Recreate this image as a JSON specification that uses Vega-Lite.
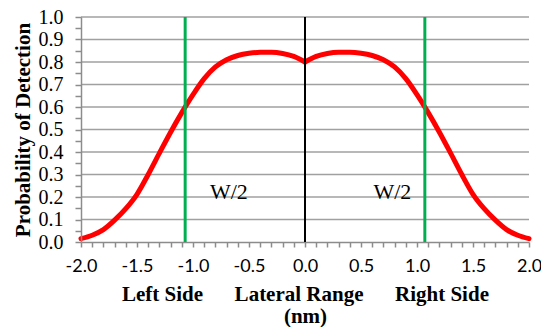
{
  "$schema": "https://vega.github.io/schema/vega-lite/v6.json",
  "width": 448,
  "height": 225,
  "autosize": {"type": "none"},
  "padding": {"left": 81, "top": 17, "right": 12, "bottom": 85},
  "background": "white",
  "config": {
    "view": {"stroke": null},
    "axis": {"domain": true, "ticks": true, "domainColor": "#8c8c8c", "domainWidth": 1.5, "tickColor": "#8c8c8c", "tickWidth": 1.5, "labelColor": "black", "titleColor": "black"},
    "axisX": {"labelFont": "Lato", "labelFontSize": 18},
    "axisY": {"labelFont": "Liberation Serif", "labelFontSize": 20}
  },
  "encoding": {
    "x": {
      "field": "x",
      "type": "quantitative",
      "scale": {"domain": [-2, 2], "nice": false, "zero": false},
      "axis": {
        "values": [-2.0, -1.9, -1.8, -1.7, -1.6, -1.5, -1.4, -1.3, -1.2, -1.1, -1.0, -0.9, -0.8, -0.7, -0.6, -0.5, -0.4, -0.3, -0.2, -0.1, 0.0, 0.1, 0.2, 0.3, 0.4, 0.5, 0.6, 0.7, 0.8, 0.9, 1.0, 1.1, 1.2, 1.3, 1.4, 1.5, 1.6, 1.7, 1.8, 1.9, 2.0],
        "labelExpr": "abs(datum.value*2 - round(datum.value*2)) < 0.001 ? ((datum.value < -0.001 ? '-' : '') + format(abs(datum.value), '.1f')) : ''",
        "labelOverlap": false,
        "labelFlush": false,
        "grid": false,
        "tickSize": 5,
        "labelPadding": 10,
        "labelFont": "Lato",
        "labelFontSize": 18,
        "title": ["Left Side\u00a0\u00a0\u00a0\u00a0\u00a0\u00a0Lateral Range\u00a0\u00a0\u00a0\u00a0\u00a0\u00a0Right Side", "(nm)"],
        "titleFont": "Liberation Serif",
        "titleFontSize": 21,
        "titleFontWeight": "bold",
        "titleLineHeight": 22,
        "titlePadding": 8
      }
    },
    "y": {
      "field": "p",
      "type": "quantitative",
      "scale": {"domain": [0, 1], "nice": false, "zero": false},
      "axis": {
        "values": [0, 0.05, 0.1, 0.15, 0.2, 0.25, 0.3, 0.35, 0.4, 0.45, 0.5, 0.55, 0.6, 0.65, 0.7, 0.75, 0.8, 0.85, 0.9, 0.95, 1.0],
        "labelExpr": "abs(datum.value*10 - round(datum.value*10)) < 0.001 ? format(datum.value, '.1f') : ''",
        "labelOverlap": false,
        "labelFlush": false,
        "grid": false,
        "domain": true,
        "ticks": true,
        "domainColor": "#8c8c8c",
        "domainOpacity": 1,
        "domainWidth": 1.5,
        "tickColor": "#8c8c8c",
        "tickOpacity": 1,
        "tickWidth": 1.5,
        "tickSize": 6,
        "zindex": 1,
        "labelPadding": 12,
        "labelFont": "Liberation Serif",
        "labelFontSize": 20,
        "labelFontWeight": "normal",
        "title": "Probability of Detection",
        "titleFont": "Liberation Serif",
        "titleFontSize": 21,
        "titleFontWeight": "bold",
        "titlePadding": 5
      }
    }
  },
  "layer": [
    {
      "data": {"values": [{"g": 0.1}, {"g": 0.2}, {"g": 0.3}, {"g": 0.4}, {"g": 0.5}, {"g": 0.6}, {"g": 0.7}, {"g": 0.8}, {"g": 0.9}, {"g": 1.0}]},
      "mark": {"type": "rule", "color": "#a0a0a0", "strokeWidth": 1.5},
      "encoding": {
        "x": {"value": 0},
        "x2": {"value": 448},
        "y": {"field": "g", "type": "quantitative"}
      }
    },
    {
      "data": {
        "values": [
          {"x": -2.0, "p": 0.015, "side": "left"},
          {"x": -1.9, "p": 0.03, "side": "left"},
          {"x": -1.8, "p": 0.055, "side": "left"},
          {"x": -1.7, "p": 0.097, "side": "left"},
          {"x": -1.6, "p": 0.148, "side": "left"},
          {"x": -1.5, "p": 0.212, "side": "left"},
          {"x": -1.4, "p": 0.3, "side": "left"},
          {"x": -1.3, "p": 0.395, "side": "left"},
          {"x": -1.2, "p": 0.488, "side": "left"},
          {"x": -1.1, "p": 0.575, "side": "left"},
          {"x": -1.0, "p": 0.655, "side": "left"},
          {"x": -0.9, "p": 0.726, "side": "left"},
          {"x": -0.8, "p": 0.778, "side": "left"},
          {"x": -0.7, "p": 0.81, "side": "left"},
          {"x": -0.6, "p": 0.829, "side": "left"},
          {"x": -0.5, "p": 0.839, "side": "left"},
          {"x": -0.4, "p": 0.843, "side": "left"},
          {"x": -0.3, "p": 0.843, "side": "left"},
          {"x": -0.2, "p": 0.838, "side": "left"},
          {"x": -0.1, "p": 0.825, "side": "left"},
          {"x": 0.0, "p": 0.8, "side": "left"},
          {"x": 0.0, "p": 0.8, "side": "right"},
          {"x": 0.1, "p": 0.825, "side": "right"},
          {"x": 0.2, "p": 0.838, "side": "right"},
          {"x": 0.3, "p": 0.843, "side": "right"},
          {"x": 0.4, "p": 0.843, "side": "right"},
          {"x": 0.5, "p": 0.839, "side": "right"},
          {"x": 0.6, "p": 0.829, "side": "right"},
          {"x": 0.7, "p": 0.81, "side": "right"},
          {"x": 0.8, "p": 0.778, "side": "right"},
          {"x": 0.9, "p": 0.726, "side": "right"},
          {"x": 1.0, "p": 0.655, "side": "right"},
          {"x": 1.1, "p": 0.575, "side": "right"},
          {"x": 1.2, "p": 0.488, "side": "right"},
          {"x": 1.3, "p": 0.395, "side": "right"},
          {"x": 1.4, "p": 0.3, "side": "right"},
          {"x": 1.5, "p": 0.212, "side": "right"},
          {"x": 1.6, "p": 0.148, "side": "right"},
          {"x": 1.7, "p": 0.097, "side": "right"},
          {"x": 1.8, "p": 0.055, "side": "right"},
          {"x": 1.9, "p": 0.03, "side": "right"},
          {"x": 2.0, "p": 0.015, "side": "right"}
        ]
      },
      "mark": {"type": "line", "color": "#ff0000", "strokeWidth": 5, "interpolate": "monotone", "strokeCap": "round", "strokeJoin": "round"},
      "encoding": {
        "detail": {"field": "side", "type": "nominal"}
      }
    },
    {
      "data": {"values": [{"x": -1.07, "lo": 0, "hi": 1}, {"x": 1.07, "lo": 0, "hi": 1}]},
      "mark": {"type": "rule", "color": "#00b050", "strokeWidth": 3},
      "encoding": {"y": {"field": "lo", "type": "quantitative"}, "y2": {"field": "hi"}}
    },
    {
      "data": {"values": [{"x": 0, "lo": 0, "hi": 1}]},
      "mark": {"type": "rule", "color": "black", "strokeWidth": 2},
      "encoding": {"y": {"field": "lo", "type": "quantitative"}, "y2": {"field": "hi"}}
    },
    {
      "data": {"values": [{"x": -0.68, "p": 0.19, "label": "W/2"}, {"x": 0.78, "p": 0.19, "label": "W/2"}]},
      "mark": {"type": "text", "font": "Liberation Serif", "fontSize": 22, "align": "center", "baseline": "alphabetic", "color": "black"},
      "encoding": {
        "text": {"field": "label", "type": "nominal"}
      }
    }
  ]
}
